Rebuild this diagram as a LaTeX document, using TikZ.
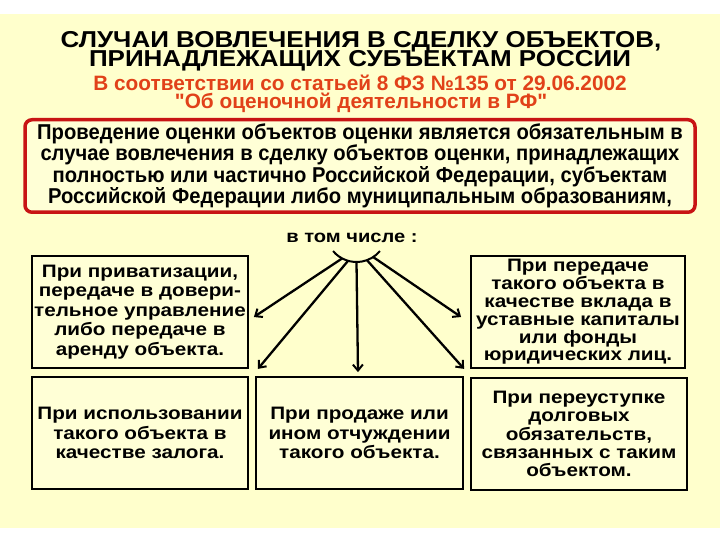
\documentclass[tikz,border=0pt]{standalone}
\usepackage{fontspec}
\setmainfont{Liberation Sans}
\newfontfamily\titlef[FakeStretch=1.13]{Liberation Sans}
\newfontfamily\subf{Liberation Sans}
\newfontfamily\mainf[FakeStretch=0.94]{Liberation Sans}
\newfontfamily\boxf[FakeStretch=1.15]{Liberation Sans}
\usetikzlibrary{arrows.meta,calc}
\definecolor{bg}{RGB}{255,255,204}
\definecolor{boxbg}{RGB}{255,255,214}
\definecolor{subred}{RGB}{225,65,25}
\definecolor{frame}{RGB}{200,20,20}
\begin{document}
\begin{tikzpicture}[x=1pt,y=-1pt,
  ttl/.style={anchor=base,inner sep=0,font=\titlef\bfseries\fontsize{23}{23}\selectfont},
  sub/.style={anchor=base,inner sep=0,text=subred,font=\subf\bfseries\fontsize{20.8}{20.8}\selectfont},
  mainbox/.style={draw=frame,line width=3.5pt,rounded corners=7pt,fill=boxbg,align=center,inner sep=0,
    font=\mainf\bfseries\fontsize{21.5}{18.2}\selectfont},
  cbox/.style={draw=black,line width=1.8pt,fill=boxbg,align=center,inner sep=0,minimum height=112,
    font=\boxf\bfseries\fontsize{18}{19.5}\selectfont},
  arr/.style={line width=2.3pt,-{Straight Barb[length=6pt,width=10pt,line width=2pt]}}]
\useasboundingbox (0,0) rectangle (720,540);
\fill[white] (0,0) rectangle (720,540);
\fill[bg] (0,14) rectangle (720,528);

\node[ttl] (t1) at (361,47.5) {СЛУЧАИ ВОВЛЕЧЕНИЯ В СДЕЛКУ ОБЪЕКТОВ,};
\node[ttl] (t2) at (360,67) {ПРИНАДЛЕЖАЩИХ СУБЪЕКТАМ РОССИИ};
\node[sub] (s1) at (360,91) {В соответствии со статьей 8 ФЗ №135 от 29.06.2002};
\node[sub] (s2) at (361,108.5) {"Об оценочной деятельности в РФ"};

\node[mainbox,minimum width=670,minimum height=92.5] (main) at (360,166)
  {Проведение оценки объектов оценки является обязательным в\\
   случае вовлечения в сделку объектов оценки, принадлежащих\\
   полностью или частично Российской Федерации, субъектам\\
   Российской Федерации либо муниципальным образованиям,};

\node[anchor=base,inner sep=0,font=\boxf\bfseries\fontsize{17.5}{17.5}\selectfont] (vtom) at (352,242.5) {в том числе :};

\node[cbox,minimum width=216] (tl) at (140,312)
  {При приватизации,\\передаче в довери-\\тельное управление\\либо передаче в\\аренду объекта.};
\node[cbox,minimum width=214,font=\boxf\bfseries\fontsize{18}{17.8}\selectfont] (tr) at (578,312)
  {При передаче\\такого объекта в\\качестве вклада в\\уставные капиталы\\или фонды\\юридических лиц.};
\node[cbox,minimum width=216] (bl) at (140,433)
  {При использовании\\такого объекта в\\качестве залога.};
\node[cbox,minimum width=207] (bm) at (359.5,433)
  {При продаже или\\ином отчуждении\\такого объекта.};
\node[cbox,minimum width=216,font=\boxf\bfseries\fontsize{18}{18.3}\selectfont] (br) at (579,434)
  {При переуступке\\долговых\\обязательств,\\связанных с таким\\объектом.};

\coordinate (c) at (356.5,231.4);
\draw[line width=2pt] ($(c)+(140:30.6)$) arc[start angle=140,end angle=40,radius=30.6];
\coordinate (p1) at ($(c)+(118:30.6)$);
\coordinate (p2) at ($(c)+(106:30.6)$);
\coordinate (p3) at ($(c)+(90:30.6)$);
\coordinate (p4) at ($(c)+(70:30.6)$);
\coordinate (p5) at ($(c)+(57:30.6)$);
\coordinate (e2) at ($(tl.south east)+(9,0)$);
\coordinate (e4) at ($(tr.south west)+(-6,0)$);
\draw[arr] (p1) -- ($(tl.east)+(5,5)$);
\draw[arr] (p2) -- (e2);
\draw[arr] (p3) -- ($(bm.north)+(-1.5,-4)$);
\draw[arr] (p4) -- (e4);
\draw[arr] (p5) -- ($(tr.west)+(-9,5)$);
\end{tikzpicture}
\end{document}
